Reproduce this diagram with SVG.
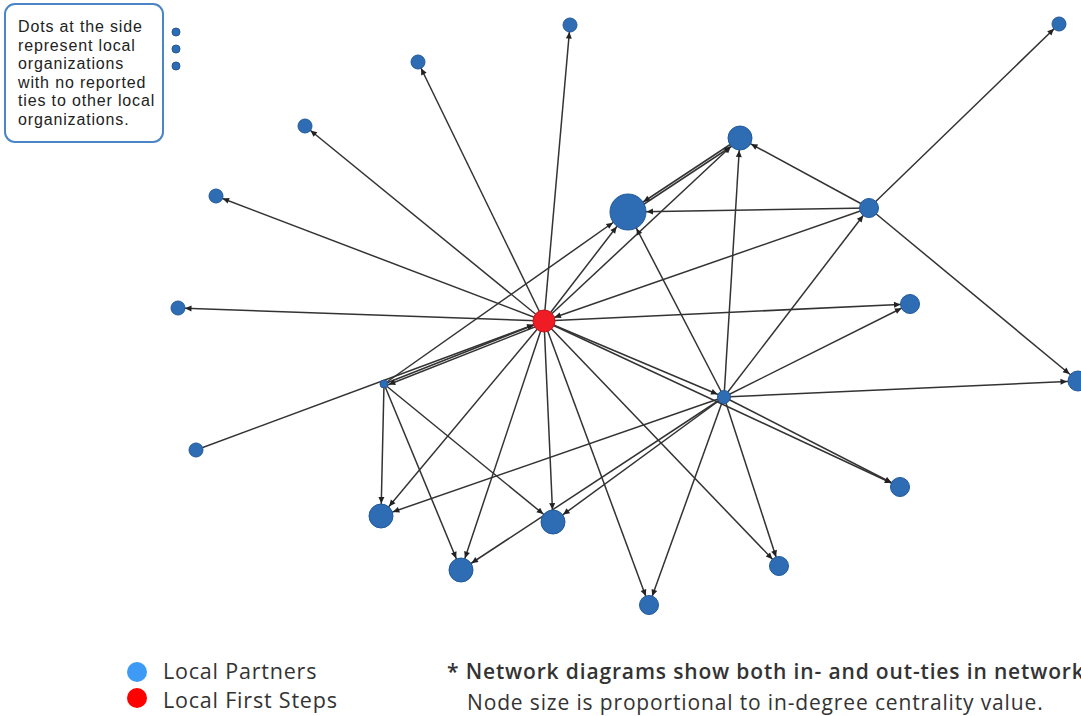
<svg xmlns="http://www.w3.org/2000/svg" width="1081" height="716" viewBox="0 0 1081 716">
<style>
.e{stroke:#333;stroke-width:1.5;fill:none}
.n{fill:#2e6db4;stroke:#22599a;stroke-width:1}
.hub{fill:#ee1c24;stroke:#c8141b;stroke-width:1}
.box{fill:#fff;stroke:#4a86c5;stroke-width:2}
.bt{font-family:"Liberation Sans",Arial,sans-serif;font-size:16px;letter-spacing:0.85px;fill:#222}
.lg{font-family:"Open Sans",sans-serif;font-size:21.5px;letter-spacing:0.8px;fill:#333}
.ft{font-family:"Open Sans",sans-serif;font-size:21px;letter-spacing:0.85px;fill:#333}
</style>
<defs>
<marker id="a4" markerUnits="userSpaceOnUse" markerWidth="20" markerHeight="20" refX="10.5" refY="0" orient="auto" overflow="visible"><path d="M0,-3L6.5,0L0,3z" fill="#222"/></marker>
<marker id="a7" markerUnits="userSpaceOnUse" markerWidth="20" markerHeight="20" refX="13.5" refY="0" orient="auto" overflow="visible"><path d="M0,-3L6.5,0L0,3z" fill="#222"/></marker>
<marker id="a9" markerUnits="userSpaceOnUse" markerWidth="20" markerHeight="20" refX="16" refY="0" orient="auto" overflow="visible"><path d="M0,-3L6.5,0L0,3z" fill="#222"/></marker>
<marker id="a11" markerUnits="userSpaceOnUse" markerWidth="20" markerHeight="20" refX="17.5" refY="0" orient="auto" overflow="visible"><path d="M0,-3L6.5,0L0,3z" fill="#222"/></marker>
<marker id="a12" markerUnits="userSpaceOnUse" markerWidth="20" markerHeight="20" refX="19" refY="0" orient="auto" overflow="visible"><path d="M0,-3L6.5,0L0,3z" fill="#222"/></marker>
<marker id="a18" markerUnits="userSpaceOnUse" markerWidth="20" markerHeight="20" refX="25" refY="0" orient="auto" overflow="visible"><path d="M0,-3L6.5,0L0,3z" fill="#222"/></marker>
</defs>
<rect width="1081" height="716" fill="#fff"/>
<g id="connectors">
<line class="e" x1="544" y1="321" x2="570" y2="25" marker-end="url(#a7)"/>
<line class="e" x1="544" y1="321" x2="418" y2="62" marker-end="url(#a7)"/>
<line class="e" x1="544" y1="321" x2="305" y2="126" marker-end="url(#a7)"/>
<line class="e" x1="544" y1="321" x2="216" y2="196" marker-end="url(#a7)"/>
<line class="e" x1="544" y1="321" x2="178" y2="308" marker-end="url(#a7)"/>
<line class="e" x1="196" y1="450" x2="544" y2="321" marker-end="url(#a11)"/>
<line class="e" x1="384" y1="384" x2="544" y2="321" marker-end="url(#a11)"/>
<line class="e" x1="545" y1="323" x2="385" y2="386" marker-end="url(#a4)"/>
<line class="e" x1="384" y1="384" x2="628" y2="212" marker-end="url(#a18)"/>
<line class="e" x1="384" y1="384" x2="381" y2="516" marker-end="url(#a12)"/>
<line class="e" x1="384" y1="384" x2="461" y2="570" marker-end="url(#a12)"/>
<line class="e" x1="384" y1="384" x2="553" y2="522" marker-end="url(#a12)"/>
<line class="e" x1="544" y1="321" x2="381" y2="516" marker-end="url(#a12)"/>
<line class="e" x1="544" y1="321" x2="461" y2="570" marker-end="url(#a12)"/>
<line class="e" x1="544" y1="321" x2="553" y2="522" marker-end="url(#a12)"/>
<line class="e" x1="544" y1="321" x2="649" y2="605" marker-end="url(#a9)"/>
<line class="e" x1="544" y1="321" x2="779" y2="566" marker-end="url(#a9)"/>
<line class="e" x1="544" y1="321" x2="900" y2="487" marker-end="url(#a9)"/>
<line class="e" x1="544" y1="321" x2="724" y2="397" marker-end="url(#a7)"/>
<line class="e" x1="544" y1="321" x2="910" y2="304" marker-end="url(#a9)"/>
<line class="e" x1="869" y1="208" x2="544" y2="321" marker-end="url(#a11)"/>
<line class="e" x1="544" y1="321" x2="740" y2="138" marker-end="url(#a12)"/>
<line class="e" x1="544" y1="321" x2="628" y2="212" marker-end="url(#a18)"/>
<line class="e" x1="724" y1="397" x2="628" y2="212" marker-end="url(#a18)"/>
<line class="e" x1="724" y1="397" x2="740" y2="138" marker-end="url(#a12)"/>
<line class="e" x1="724" y1="397" x2="869" y2="208" marker-end="url(#a9)"/>
<line class="e" x1="724" y1="397" x2="910" y2="304" marker-end="url(#a9)"/>
<line class="e" x1="724" y1="397" x2="1078" y2="381" marker-end="url(#a11)"/>
<line class="e" x1="724" y1="397" x2="900" y2="487" marker-end="url(#a9)"/>
<line class="e" x1="724" y1="397" x2="779" y2="566" marker-end="url(#a9)"/>
<line class="e" x1="724" y1="397" x2="649" y2="605" marker-end="url(#a9)"/>
<line class="e" x1="724" y1="397" x2="553" y2="522" marker-end="url(#a12)"/>
<line class="e" x1="724" y1="397" x2="461" y2="570" marker-end="url(#a12)"/>
<line class="e" x1="724" y1="397" x2="381" y2="516" marker-end="url(#a12)"/>
<line class="e" x1="869" y1="208" x2="740" y2="138" marker-end="url(#a12)"/>
<line class="e" x1="869" y1="208" x2="628" y2="212" marker-end="url(#a18)"/>
<line class="e" x1="869" y1="208" x2="1059" y2="24" marker-end="url(#a7)"/>
<line class="e" x1="869" y1="208" x2="1078" y2="381" marker-end="url(#a11)"/>
<line class="e" x1="740" y1="138" x2="628" y2="212" marker-end="url(#a18)"/>
<line class="e" x1="629" y1="214" x2="741" y2="140" marker-end="url(#a12)"/>
</g>
<g id="node-A"><circle class="n" cx="570" cy="25" r="7"/></g>
<g id="node-B"><circle class="n" cx="418" cy="62" r="7"/></g>
<g id="node-C"><circle class="n" cx="305" cy="126" r="7"/></g>
<g id="node-D"><circle class="n" cx="216" cy="196" r="7"/></g>
<g id="node-E"><circle class="n" cx="178" cy="308" r="7"/></g>
<g id="node-F"><circle class="n" cx="196" cy="450" r="7"/></g>
<g id="node-G"><circle class="n" cx="384" cy="384" r="4"/></g>
<g id="node-I"><circle class="n" cx="381" cy="516" r="12"/></g>
<g id="node-J"><circle class="n" cx="461" cy="570" r="12"/></g>
<g id="node-K"><circle class="n" cx="553" cy="522" r="12"/></g>
<g id="node-L"><circle class="n" cx="649" cy="605" r="9.5"/></g>
<g id="node-M"><circle class="n" cx="779" cy="566" r="9.5"/></g>
<g id="node-N"><circle class="n" cx="900" cy="487" r="9.5"/></g>
<g id="node-O"><circle class="n" cx="724" cy="397" r="6.5"/></g>
<g id="node-P"><circle class="n" cx="910" cy="304" r="9.5"/></g>
<g id="node-Q"><circle class="n" cx="1078" cy="381" r="10"/></g>
<g id="node-R"><circle class="n" cx="869" cy="208" r="9.5"/></g>
<g id="node-S"><circle class="n" cx="740" cy="138" r="12"/></g>
<g id="node-T"><circle class="n" cx="628" cy="212" r="18"/></g>
<g id="node-U"><circle class="n" cx="1059" cy="24" r="7"/></g>
<g id="node-hub"><circle class="hub" cx="544" cy="321" r="11"/></g>
<g id="isolates">
<circle class="n" cx="176" cy="32" r="4"/>
<circle class="n" cx="176" cy="49" r="4"/>
<circle class="n" cx="176" cy="66" r="4"/>
</g>
<g id="note">
<rect class="box" x="5" y="4" width="158" height="138" rx="10"/>
<text class="bt" x="18" y="32">Dots at the side</text>
<text class="bt" x="18" y="50.5">represent local</text>
<text class="bt" x="18" y="69">organizations</text>
<text class="bt" x="18" y="87.5">with no reported</text>
<text class="bt" x="18" y="106">ties to other local</text>
<text class="bt" x="18" y="124.5">organizations.</text>
</g>
<g id="legend">
<circle cx="137" cy="672" r="10" fill="#3d9bf5"/>
<circle cx="137" cy="698" r="10" fill="#ff0000"/>
<text class="lg" x="163" y="679">Local Partners</text>
<text class="lg" x="163" y="708">Local First Steps</text>
</g>
<g id="footnote">
<text class="ft" x="447" y="679" font-weight="600">* Network diagrams show both in- and out-ties in network</text>
<text class="ft" x="467" y="710">Node size is proportional to in-degree centrality value.</text>
</g>
</svg>
